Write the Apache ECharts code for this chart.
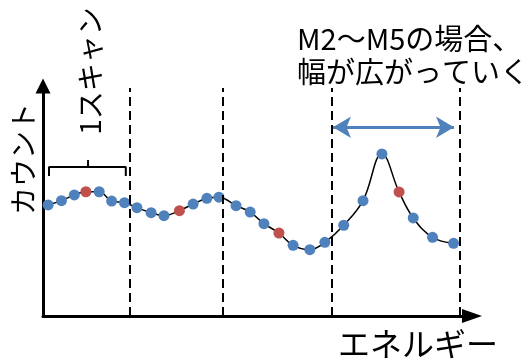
<!DOCTYPE html>
<html>
<head>
<meta charset="utf-8">
<script src="https://cdn.jsdelivr.net/npm/echarts@6/dist/echarts.min.js"></script>
<style>
  html, body { margin: 0; padding: 0; background: #fff; }
  #chart { width: 529px; height: 361px; }
</style>
</head>
<body>
<div id="chart"></div>
<script>
// Energy positions of the measured points (arbitrary units)
const energy = [1.2, 4.3, 7.3, 10.0, 13.1, 16.0, 19.0,
                21.9, 25.2, 28.2, 31.8, 35.0, 38.2, 41.0,
                45.0, 48.3, 51.5, 55.0, 58.3, 62.2, 65.7,
                70.1, 74.6, 79.0, 83.0, 86.3, 90.8, 95.7];
// Counts at each point
const counts = [48.7, 50.6, 53.1, 54.5, 54.5, 50.4, 49.7,
                47.5, 45.3, 44.0, 46.2, 49.1, 51.6, 52.1,
                48.4, 45.6, 40.5, 36.4, 31.0, 29.1, 32.3,
                39.8, 50.6, 71.1, 54.4, 43.0, 34.5, 31.9];
// Points highlighted in red (one per scan)
const highlighted = [3, 10, 17, 24];
// Scan boundaries (dashed lines)
const scanEdges = [20.3, 42.0, 67.2, 97.2];
const edgeTop = 100;
// Width arrow for M2–M5
const widthArrow = { from: 67.6, to: 95.8, level: 82.8 };
// Bracket marking one scan
const bracket = { from: 1.4, to: 19.3, level: 65.4, foot: 61.4, mid: 10.5, tip: 68.4 };

const BLUE = '#4F81BD';
const RED = '#C0504D';
const FONT = '"Noto Sans CJK JP", "Noto Sans", sans-serif';

const chart = echarts.init(document.getElementById('chart'));

const curveData = energy.map((e, i) => ({
  value: [e, counts[i]],
  itemStyle: { color: highlighted.includes(i) ? RED : BLUE }
}));

const edgeLines = scanEdges.map(x => [{ coord: [x, 0] }, { coord: [x, edgeTop] }]);

const option = {
  animation: false,
  grid: { left: 43, right: 57, top: 88, bottom: 45 },
  xAxis: {
    type: 'value', min: 0, max: 100,
    splitLine: { show: false }, axisTick: { show: false }, axisLabel: { show: false },
    axisLine: {
      lineStyle: { color: '#000', width: 3 },
      symbol: ['none', 'triangle'], symbolSize: [14, 20], symbolOffset: [0, 0]
    }
  },
  yAxis: {
    type: 'value', min: 0, max: 100,
    splitLine: { show: false }, axisTick: { show: false }, axisLabel: { show: false },
    axisLine: {
      lineStyle: { color: '#000', width: 3 },
      symbol: ['none', 'triangle'], symbolSize: [15, 15], symbolOffset: [0, 2]
    }
  },
  series: [
    {
      name: 'spectrum',
      type: 'line',
      smooth: 0.4,
      symbol: 'circle',
      symbolSize: 11,
      z: 3,
      lineStyle: { color: '#000', width: 1.5 },
      data: curveData,
      markLine: {
        silent: true,
        symbol: ['none', 'none'],
        label: { show: false },
        lineStyle: { color: '#000', width: 2, type: [9, 5] },
        data: edgeLines
      }
    },
    {
      name: 'width',
      type: 'line',
      data: [],
      markLine: {
        silent: true,
        symbol: ['arrow', 'arrow'],
        symbolSize: [16, 18],
        label: { show: false },
        lineStyle: { color: BLUE, width: 3, type: 'solid' },
        data: [[{ coord: [widthArrow.from, widthArrow.level] }, { coord: [widthArrow.to, widthArrow.level] }]]
      }
    },
    {
      name: 'bracket',
      type: 'line',
      symbol: 'none',
      lineStyle: { color: '#000', width: 2 },
      data: [[bracket.from, bracket.foot], [bracket.from, bracket.level],
             [bracket.to, bracket.level], [bracket.to, bracket.foot]]
    },
    {
      name: 'bracketTip',
      type: 'line',
      symbol: 'none',
      lineStyle: { color: '#000', width: 2 },
      data: [[bracket.mid, bracket.level], [bracket.mid, bracket.tip]]
    }
  ],
  graphic: [
    {
      type: 'text', left: 297, top: 22,
      style: { text: 'M2〜M5の場合、\n幅が広がっていく', font: '29px ' + FONT, fill: '#000', lineHeight: 33 }
    },
    {
      type: 'text', left: 338, top: 328,
      style: { text: 'エネルギー', font: '32px ' + FONT, fill: '#000' }
    },
    {
      type: 'text', x: 23, y: 159, rotation: Math.PI / 2,
      style: { text: 'カウント', font: '28px ' + FONT, fill: '#000', align: 'center', verticalAlign: 'middle' }
    },
    {
      type: 'text', x: 90, y: 71, rotation: Math.PI / 2,
      style: { text: '1スキャン', font: '28px ' + FONT, fill: '#000', align: 'center', verticalAlign: 'middle' }
    }
  ]
};

chart.setOption(option);
</script>
</body>
</html>
